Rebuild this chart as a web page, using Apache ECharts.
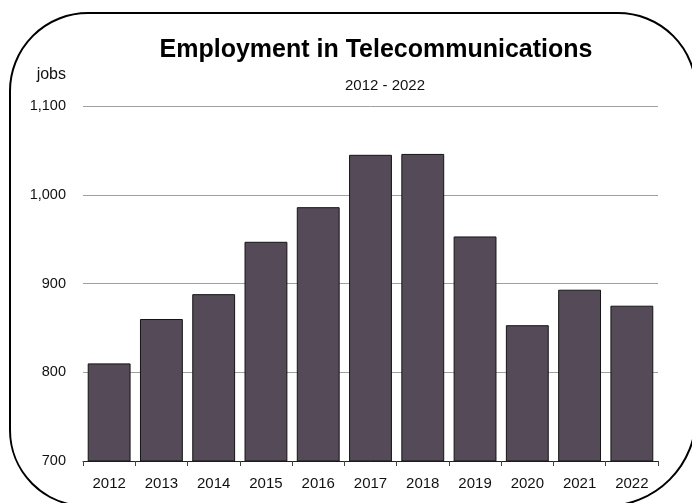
<!DOCTYPE html>
<html>
<head>
<meta charset="utf-8">
<script src="https://cdn.jsdelivr.net/npm/echarts@6/dist/echarts.min.js"></script>
<style>
  html, body { margin: 0; padding: 0; background: #fff; }
  #chart { width: 692px; height: 503px; }
</style>
</head>
<body>
<div id="chart"></div>
<script>
// Telecommunications employment by year
const years = ['2012', '2013', '2014', '2015', '2016', '2017', '2018', '2019', '2020', '2021', '2022'];
const jobs = [810, 860, 888, 947, 986, 1045, 1046, 953, 853, 893, 875];

const titleText = 'Employment in Telecommunications';
const subtitleText = '2012 - 2022';
const unitText = 'jobs';

const yMin = 700;
const yMax = 1100;
const yStep = 100;

const FONT = "'Liberation Sans', Arial, Helvetica, sans-serif";

const chart = echarts.init(document.getElementById('chart'), null, { renderer: 'canvas' });

chart.setOption({
  animation: false,
  backgroundColor: '#ffffff',
  grid: { left: 83, right: 34, top: 106, bottom: 42, containLabel: false },
  xAxis: {
    type: 'category',
    data: years,
    axisLine: { show: true, lineStyle: { color: '#222', width: 1 } },
    axisTick: { show: true, alignWithLabel: false, length: 5, lineStyle: { color: '#444' } },
    axisLabel: { color: '#111', fontFamily: FONT, fontSize: 15, margin: 15, interval: 0 },
    splitLine: { show: false }
  },
  yAxis: {
    type: 'value',
    min: yMin,
    max: yMax,
    interval: yStep,
    axisLine: { show: false },
    axisTick: { show: false },
    axisLabel: {
      color: '#111',
      fontFamily: FONT,
      fontSize: 14.5,
      margin: 17,
      formatter: v => v.toLocaleString('en-US')
    },
    splitLine: { show: true, lineStyle: { color: '#a0a0a0', width: 1 } }
  },
  series: [{
    type: 'bar',
    data: jobs,
    barCategoryGap: '18%',
    itemStyle: { color: '#554a58', borderColor: '#141414', borderWidth: 1 }
  }],
  graphic: [
    {
      type: 'text',
      x: 376, y: 50,
      style: {
        text: titleText,
        fill: '#000',
        font: "bold 25px 'Liberation Sans', Arial, sans-serif",
        textAlign: 'center',
        textVerticalAlign: 'middle'
      }
    },
    {
      type: 'text',
      x: 385, y: 86,
      style: {
        text: subtitleText,
        fill: '#111',
        font: "15px 'Liberation Sans', Arial, sans-serif",
        textAlign: 'center',
        textVerticalAlign: 'middle'
      }
    },
    {
      type: 'text',
      x: 66, y: 75,
      style: {
        text: unitText,
        fill: '#111',
        font: "16px 'Liberation Sans', Arial, sans-serif",
        textAlign: 'right',
        textVerticalAlign: 'middle'
      }
    },
    {
      // rounded frame around the whole chart
      type: 'rect',
      z: 100,
      shape: { x: 10, y: 13, width: 686, height: 493, r: [78, 78, 90, 76] },
      style: { fill: 'none', stroke: '#000', lineWidth: 2 }
    }
  ]
});
</script>
</body>
</html>
